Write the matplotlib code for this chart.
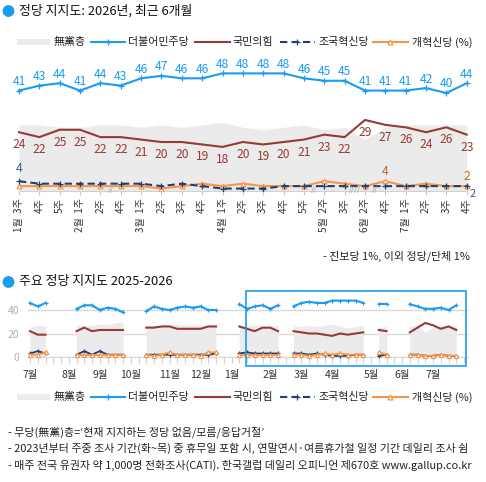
import numpy as np
import matplotlib
matplotlib.use('Agg')
import matplotlib.pyplot as plt
from matplotlib.patches import Rectangle, Circle
from matplotlib.lines import Line2D

plt.rcParams['font.family'] = ['Noto Sans CJK KR', 'DejaVu Sans']

BLUE = '#1a9cf0'
RED = '#983a36'
NAVY = '#1f3f78'
ORANGE = '#f79646'
GRAY = '#ebebeb'

# ---- top chart: 2026 weekly ----
weeks = ['1월  3주', '4주', '5주', '2월  1주', '2주', '4주', '3월  1주', '2주', '3주', '4주',
         '4월  1주', '2주', '3주', '4주', '5주', '5월  2주', '3주', '6월  2주', '4주',
         '7월  1주', '2주', '3주', '4주']
minjoo = [41, 43, 44, 41, 44, 43, 46, 47, 46, 46, 48, 48, 48, 48, 46, 45, 45, 41, 41, 41, 42, 40, 44]
ppp = [24, 22, 25, 25, 22, 22, 21, 20, 20, 19, 18, 20, 19, 20, 21, 23, 22, 29, 27, 26, 24, 26, 23]
nonparty = [27, 27, 26, 26, 27, 27, 26, 27, 26, 27, 28, 26, 25, 26, 27, 25, 26, 21, 26, 27, 27, 27, 27]
rebuild = [4, 3, 3, 3, 3, 3, 3, 2, 3, 2, 1, 1, 1, 2, 2, 2, 2, 2, 2, 2, 2, 2, 2]
reform = [2, 2, 2, 2, 2, 2, 2, 1, 2, 3, 2, 3, 2, 2, 2, 4, 3, 2, 4, 2, 3, 2, 2]
gap_marks = {4.5: '//', 14.5: '//', 16.5: '////', 17.5: '//'}

# ---- bottom chart: weekly from 2025-07 1주 (nan = no survey) ----
N = np.nan
b_minjoo = [46, 43, 46, N, N, N, 41, 44, 44, 40, 42, 41, 38, N, N,
            39, 43, 41, 40, 42, 43, 42, 43, 40, 40, N, N,
            45, 41, 43, 44, 41, 44, N, 43, 46, 47, 46, 46, 48, 48, 48, 48, 46, N,
            45, 45, N, N, 45, 43, 41, 41, 42, 40, 44]
b_ppp = [22, 19, 19, N, N, N, 22, 25, 22, 23, 23, 23, 23, N, N,
         25, 25, 26, 26, 24, 24, 24, 24, 26, 26, N, N,
         26, 24, 22, 25, 25, 22, N, 22, 21, 20, 20, 19, 18, 20, 19, 20, 21, N,
         23, 22, N, N, 21, 25, 29, 27, 24, 26, 23]
b_nonparty = [26, 27, 26, N, N, N, 27, 27, 27, 28, 28, 29, 30, N, N,
              27, 27, 27, 27, 28, 27, 27, 27, 27, 27, N, N,
              26, 27, 27, 26, 26, 27, N, 27, 26, 27, 26, 27, 28, 26, 25, 26, 27, N,
              25, 26, N, N, 26, 27, 21, 26, 27, 27, 27]
b_rebuild = [3, 5, 3, N, N, N, 2, 5, 2, 5, 2, 2, 2, N, N,
             2, 2, 2, 2, 2, 2, 2, 2, 2, 3, N, N,
             3, 4, 3, 3, 3, 3, N, 3, 3, 2, 3, 2, 1, 1, 1, 2, 2, N,
             1, 2, N, N, 2, 2, 1, 1, 2, 1, 1]
b_reform = [2, 2, 4, N, N, N, 2, 2, 2, 2, 2, 2, 2, N, N,
            2, 1, 2, 4, 2, 2, 2, 1, 4, 4, N, N,
            2, 2, 2, 2, 2, 2, N, 2, 2, 1, 2, 3, 2, 3, 2, 2, 2, N,
            4, 2, N, N, 2, 2, 1, 1, 2, 1, 1]
month_pos = [0, 5, 9, 13, 18, 22, 26, 31, 35, 39, 44, 48, 52]
month_lbl = ['7월', '8월', '9월', '10월', '11월', '12월', '1월', '2월', '3월', '4월', '5월', '6월', '7월']


def segments(vals):
    '''contiguous runs of non-nan values'''
    vals = np.asarray(vals, dtype=float)
    ok = ~np.isnan(vals)
    runs, cur = [], []
    for i in range(len(vals)):
        if ok[i]:
            cur.append(i)
        elif cur:
            runs.append(cur)
            cur = []
    if cur:
        runs.append(cur)
    return [(np.array(r), vals[r]) for r in runs]


fig = plt.figure(figsize=(4.86, 4.82), dpi=100)

# ================= top chart =================
ax = fig.add_axes([0.01811, 0.6037, 0.9632, 0.2796])
x = np.arange(len(weeks))
ax.fill_between(x, 0, nonparty, color=GRAY, lw=0, zorder=1)
ax.plot(x, ppp, color=RED, lw=1.5, zorder=3)
ax.plot(x, reform, color=ORANGE, lw=1.5, marker='^', ms=3.5, mfc='white', mec=ORANGE, mew=0.9, zorder=4)
ax.plot(x, rebuild, color=NAVY, lw=1.5, ls=(0, (3.5, 2)), marker='+', ms=4, mew=0.9, zorder=5)
ax.plot(x, minjoo, color=BLUE, lw=1.5, marker='+', ms=4.5, mew=0.9, zorder=6)

for i in x:
    ax.annotate(str(minjoo[i]), (i, minjoo[i]), xytext=(0, 6.5), textcoords='offset points',
                ha='center', va='center', fontsize=8.7, color=BLUE)
    ax.annotate(str(ppp[i]), (i, ppp[i]), xytext=(0, -9), textcoords='offset points',
                ha='center', va='center', fontsize=8.7, color=RED)
ax.annotate(str(rebuild[0]), (0, rebuild[0]), xytext=(0, 9), textcoords='offset points',
            ha='center', va='center', fontsize=8.7, color='#3a5a94')
ax.annotate(str(rebuild[-1]), (x[-1], rebuild[-1]), xytext=(4, -6), textcoords='offset points',
            ha='center', va='center', fontsize=8, color='#3a5a94')
for i in (18, 22):
    ax.annotate(str(reform[i]), (i, reform[i]), xytext=(0, 7), textcoords='offset points',
                ha='center', va='center', fontsize=8.7, color='#b9651f')
for gx, s in gap_marks.items():
    ax.text(gx, 0.3, s, ha='center', va='center', fontsize=5.5, color='#999999', style='italic', zorder=7)

ax.set_xlim(-0.5, 22.5)
ax.set_ylim(0, 55)
ax.set_yticks([])
for side in ('left', 'right', 'top'):
    ax.spines[side].set_visible(False)
ax.spines['bottom'].set_color('#d0d0d0')
ax.spines['bottom'].set_bounds(0, 22)
ax.set_xticks(x)
ax.set_xticklabels(weeks, rotation=90, fontsize=7.2, color='#333333')
ax.tick_params(axis='x', length=3, color='#c8c8c8', pad=2)
ax.patch.set_alpha(0)

# ================= bottom chart =================
bx = fig.add_axes([0.0570, 0.2593, 0.9058, 0.1268])
for xs, ys in segments(b_nonparty):
    bx.fill_between(xs, 0, ys, color=GRAY, lw=0, zorder=1)
for xs, ys in segments(b_ppp):
    bx.plot(xs, ys, color=RED, lw=1.5, zorder=3)
for xs, ys in segments(b_reform):
    bx.plot(xs, ys, color=ORANGE, lw=1.3, marker='^', ms=3, mfc='white', mec=ORANGE, mew=0.8,
            zorder=5, clip_on=False)
for xs, ys in segments(b_rebuild):
    bx.plot(xs, ys, color=NAVY, lw=1.3, marker='+', ms=3, mew=0.8, zorder=4, clip_on=False)
for xs, ys in segments(b_minjoo):
    bx.plot(xs, ys, color=BLUE, lw=1.5, marker='+', ms=3, mew=0.8, zorder=6)

bx.set_xlim(-0.3, 56.5)
bx.set_ylim(0, 52)
bx.set_yticks([0, 20, 40])
bx.set_yticklabels(['0', '20', '40'], fontsize=7.5, color='#b0b0b0')
bx.yaxis.grid(True, color='#d9d9d9', lw=1)
bx.set_axisbelow(True)
bx.tick_params(axis='y', length=0, pad=6)
for side in ('left', 'right', 'top'):
    bx.spines[side].set_visible(False)
bx.spines['bottom'].set_color('#d9d9d9')
all_weeks = np.arange(57)
bx.set_xticks(all_weeks)
bx.set_xticklabels([month_lbl[month_pos.index(w)] if w in month_pos else '' for w in all_weeks],
                   fontsize=7.5, color='#333333')
bx.tick_params(axis='x', length=4, color='#d0d0d0', pad=5)
bx.patch.set_alpha(0)

# ================= overlay: titles, legends, notes =================
ov = fig.add_axes([0, 0, 1, 1])
ov.set_xlim(0, 486)
ov.set_ylim(482, 0)
ov.axis('off')


def title(y, s):
    ov.add_patch(Circle((8.5, y), 5.2, color=BLUE))
    ov.text(19, y, s, fontsize=9.3, va='center', ha='left', color='#111111')


def legend(y):
    ov.add_patch(Rectangle((17, y - 3), 33, 6, color=GRAY, lw=0))
    ov.text(54, y, '無黨층', fontsize=7.9, va='center', color='#222222')
    ov.add_line(Line2D([91, 125], [y, y], color=BLUE, lw=1.5))
    ov.add_line(Line2D([108], [y], color=BLUE, marker='+', ms=4, mew=0.9))
    ov.text(128, y, '더불어민주당', fontsize=7.9, va='center', color='#222222')
    ov.add_line(Line2D([195, 230], [y, y], color=RED, lw=1.5))
    ov.text(232, y, '국민의힘', fontsize=7.9, va='center', color='#222222')
    ov.add_line(Line2D([280, 315], [y, y], color=NAVY, lw=1.5, ls=(0, (3.5, 2))))
    ov.add_line(Line2D([297], [y], color=NAVY, marker='+', ms=4, mew=0.9))
    ov.text(318, y, '조국혁신당', fontsize=7.9, va='center', color='#222222')
    ov.add_line(Line2D([373, 408], [y, y], color=ORANGE, lw=1.5))
    ov.add_line(Line2D([390], [y], color=ORANGE, marker='^', ms=3.5, mfc='white', mew=0.9))
    ov.text(412, y, '개혁신당 (%)', fontsize=7.9, va='center', color='#222222')


title(11, '정당 지지도: 2026년, 최근 6개월')
legend(42)
ov.text(470, 256, '- 진보당 1%, 이외 정당/단체 1%', fontsize=7.9, ha='right', va='center', color='#222222')
title(282, '주요 정당 지지도 2025-2026')
ov.add_patch(Rectangle((246, 291), 220, 75, fill=False, ec=BLUE, lw=1.2))
legend(397)

notes = ['- 무당(無黨)층=‘현재 지지하는 정당 없음/모름/응답거절’',
         '- 2023년부터 주중 조사 기간(화~목) 중 휴무일 포함 시, 연말연시·여름휴가철 일정 기간 데일리 조사 쉼',
         '- 매주 전국 유권자 약 1,000명 전화조사(CATI). 한국갤럽 데일리 오피니언 제670호 www.gallup.co.kr']
for k, s in enumerate(notes):
    ov.text(8, 432 + 16.5 * k, s, fontsize=7.9, va='center', color='#222222')

fig.savefig('out.png', dpi=100)
